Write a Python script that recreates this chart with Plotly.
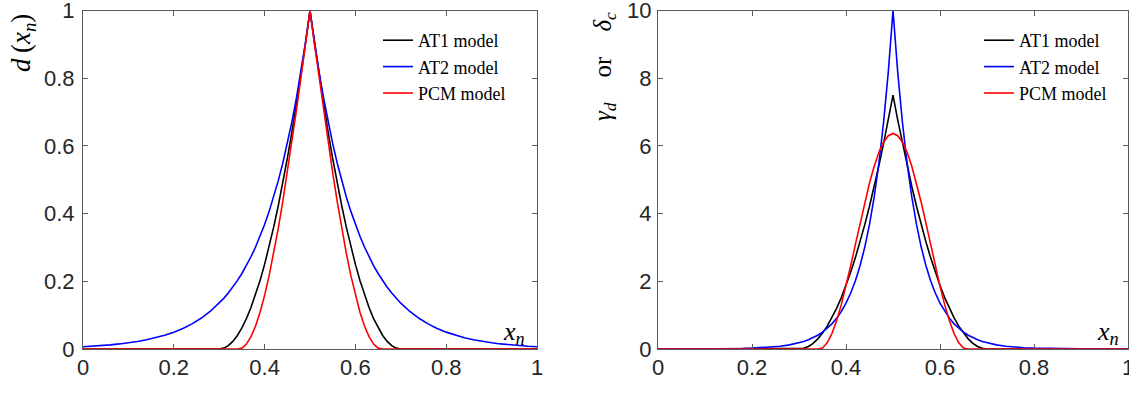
import plotly.graph_objects as go

W, H = 1129, 393

# ---------------- data ----------------
x_n = [0, 0.02, 0.04, 0.06, 0.08, 0.1, 0.12, 0.14, 0.16, 0.18, 0.2, 0.22, 0.24, 0.26, 0.28,
       0.3, 0.31, 0.32, 0.33, 0.34, 0.35, 0.36, 0.37, 0.38, 0.39,
       0.4, 0.41, 0.42, 0.43, 0.44, 0.45, 0.46, 0.47, 0.48, 0.49,
       0.5, 0.51, 0.52, 0.53, 0.54, 0.55, 0.56, 0.57, 0.58, 0.59,
       0.6, 0.61, 0.62, 0.63, 0.64, 0.65, 0.66, 0.67, 0.68, 0.69,
       0.7, 0.72, 0.74, 0.76, 0.78, 0.8, 0.82, 0.84, 0.86, 0.88, 0.9, 0.92, 0.94, 0.96, 0.98, 1.0]

d_at1 = [0, 0, 0, 0, 0, 0, 0, 0, 0, 0, 0, 0, 0, 0, 0,
         0, 0.0025, 0.01, 0.0225, 0.04, 0.0625, 0.09, 0.1225, 0.16, 0.2025,
         0.25, 0.3025, 0.36, 0.4225, 0.49, 0.5625, 0.64, 0.7225, 0.81, 0.9025,
         1.0, 0.9025, 0.81, 0.7225, 0.64, 0.5625, 0.49, 0.4225, 0.36, 0.3025,
         0.25, 0.2025, 0.16, 0.1225, 0.09, 0.0625, 0.04, 0.0225, 0.01, 0.0025,
         0, 0, 0, 0, 0, 0, 0, 0, 0, 0, 0, 0, 0, 0, 0, 0]

d_at2 = [0.0067, 0.0082, 0.0101, 0.0123, 0.0150, 0.0183, 0.0224, 0.0273, 0.0334, 0.0408,
         0.0498, 0.0608, 0.0743, 0.0907, 0.1108,
         0.1353, 0.1496, 0.1653, 0.1827, 0.2019, 0.2231, 0.2466, 0.2725, 0.3012, 0.3329,
         0.3679, 0.4066, 0.4493, 0.4966, 0.5488, 0.6065, 0.6703, 0.7408, 0.8187, 0.9048,
         1.0, 0.9048, 0.8187, 0.7408, 0.6703, 0.6065, 0.5488, 0.4966, 0.4493, 0.4066,
         0.3679, 0.3329, 0.3012, 0.2725, 0.2466, 0.2231, 0.2019, 0.1827, 0.1653, 0.1496,
         0.1353, 0.1108, 0.0907, 0.0743, 0.0608, 0.0498, 0.0408, 0.0334, 0.0273, 0.0224,
         0.0183, 0.0150, 0.0123, 0.0101, 0.0082, 0.0067]

d_pcm = [0, 0, 0, 0, 0, 0, 0, 0, 0, 0, 0, 0, 0, 0, 0,
         0, 0, 0, 0, 0, 0.0025, 0.0146, 0.0364, 0.0680, 0.1088,
         0.1585, 0.2167, 0.2826, 0.3558, 0.4354, 0.5206, 0.6106, 0.7045, 0.8013, 0.9002,
         1.0, 0.9002, 0.8013, 0.7045, 0.6106, 0.5206, 0.4354, 0.3558, 0.2826, 0.2167,
         0.1585, 0.1088, 0.0680, 0.0364, 0.0146, 0.0025, 0, 0, 0, 0,
         0, 0, 0, 0, 0, 0, 0, 0, 0, 0, 0, 0, 0, 0, 0, 0]

g_at1 = [0, 0, 0, 0, 0, 0, 0, 0, 0, 0, 0, 0, 0, 0, 0,
         0, 0.0188, 0.075, 0.1688, 0.3, 0.4688, 0.675, 0.9188, 1.2, 1.5188,
         1.875, 2.2688, 2.7, 3.1688, 3.675, 4.2188, 4.8, 5.4188, 6.075, 6.7688,
         7.5, 6.7688, 6.075, 5.4188, 4.8, 4.2188, 3.675, 3.1688, 2.7, 2.2688,
         1.875, 1.5188, 1.2, 0.9188, 0.675, 0.4688, 0.3, 0.1688, 0.075, 0.0188,
         0, 0, 0, 0, 0, 0, 0, 0, 0, 0, 0, 0, 0, 0, 0, 0]

g_at2 = [0.0005, 0.0007, 0.0010, 0.0015, 0.0022, 0.0034, 0.0050, 0.0075, 0.0111, 0.0166,
         0.0248, 0.0370, 0.0552, 0.0823, 0.1228,
         0.1832, 0.2237, 0.2732, 0.3337, 0.4076, 0.4979, 0.6081, 0.7427, 0.9072, 1.1080,
         1.3534, 1.6530, 2.0190, 2.4660, 3.0119, 3.6788, 4.4933, 5.4881, 6.7032, 8.1873,
         10.0, 8.1873, 6.7032, 5.4881, 4.4933, 3.6788, 3.0119, 2.4660, 2.0190, 1.6530,
         1.3534, 1.1080, 0.9072, 0.7427, 0.6081, 0.4979, 0.4076, 0.3337, 0.2732, 0.2237,
         0.1832, 0.1228, 0.0823, 0.0552, 0.0370, 0.0248, 0.0166, 0.0111, 0.0075, 0.0050,
         0.0034, 0.0022, 0.0015, 0.0010, 0.0007, 0.0005]

g_pcm = [0, 0, 0, 0, 0, 0, 0, 0, 0, 0, 0, 0, 0, 0, 0,
         0, 0, 0, 0, 0, 0.0319, 0.1839, 0.4555, 0.8359, 1.3098,
         1.8585, 2.4599, 3.0902, 3.7241, 4.3365, 4.9029, 5.4008, 5.8102, 6.1149, 6.3028,
         6.3662, 6.3028, 6.1149, 5.8102, 5.4008, 4.9029, 4.3365, 3.7241, 3.0902, 2.4599,
         1.8585, 1.3098, 0.8359, 0.4555, 0.1839, 0.0319, 0, 0, 0, 0,
         0, 0, 0, 0, 0, 0, 0, 0, 0, 0, 0, 0, 0, 0, 0, 0]

series_names = ["AT1 model", "AT2 model", "PCM model"]
x_ticks = [0, 0.2, 0.4, 0.6, 0.8, 1]
x_tick_text = ["0", "0.2", "0.4", "0.6", "0.8", "1"]
y1_ticks = [0, 0.2, 0.4, 0.6, 0.8, 1]
y1_tick_text = ["0", "0.2", "0.4", "0.6", "0.8", "1"]
y2_ticks = [0, 2, 4, 6, 8, 10]
y2_tick_text = ["0", "2", "4", "6", "8", "10"]

# ---------------- styling ----------------
colors = ["#000000", "#0000ff", "#ff0000"]
LW = 1.6
AXC = "#5a5a5a"
TICKFONT = dict(family="Liberation Sans, Arial, sans-serif", size=22, color="#262626")
SERIF = "Liberation Serif, Times New Roman, serif"

fig = go.Figure()

left = [d_at1, d_at2, d_pcm]
right = [g_at1, g_at2, g_pcm]
for i, (name, ys) in enumerate(zip(series_names, left)):
    fig.add_trace(go.Scatter(x=x_n, y=ys, mode="lines", name=name,
                             line=dict(color=colors[i], width=LW),
                             xaxis="x", yaxis="y", legend="legend",
                             legendgroup="L%d" % i))
for i, (name, ys) in enumerate(zip(series_names, right)):
    fig.add_trace(go.Scatter(x=x_n, y=ys, mode="lines", name=name,
                             line=dict(color=colors[i], width=LW),
                             xaxis="x2", yaxis="y2", legend="legend2",
                             legendgroup="R%d" % i))

def px_x(p):
    return p / W

def px_y(p):
    return 1 - p / H

ydom = [px_y(349), px_y(10.5)]

axis_common = dict(showline=True, linecolor=AXC, linewidth=1, mirror="allticks",
                   ticks="inside", ticklen=5, tickcolor=AXC, tickwidth=1,
                   showgrid=False, zeroline=False, tickfont=TICKFONT,
                   automargin=False, ticklabeloverflow="allow")

fig.update_layout(
    width=W, height=H,
    margin=dict(l=0, r=0, t=0, b=0),
    paper_bgcolor="white", plot_bgcolor="white",
    xaxis=dict(domain=[px_x(83), px_x(537)], range=[0, 1], anchor="y",
               tickvals=x_ticks, ticktext=x_tick_text, ticklabelstandoff=-1, **axis_common),
    yaxis=dict(domain=ydom, range=[0, 1], anchor="x",
               tickvals=y1_ticks, ticktext=y1_tick_text, ticklabelstandoff=3, **axis_common),
    xaxis2=dict(domain=[px_x(658), px_x(1128)], range=[0, 1], anchor="y2",
                tickvals=x_ticks, ticktext=x_tick_text, ticklabelstandoff=-1, **axis_common),
    yaxis2=dict(domain=ydom, range=[0, 10], anchor="x2",
                tickvals=y2_ticks, ticktext=y2_tick_text, ticklabelstandoff=1, **axis_common),
    legend=dict(x=px_x(378), y=px_y(22), xanchor="left", yanchor="top",
                bgcolor="rgba(0,0,0,0)", borderwidth=0,
                font=dict(family=SERIF, size=18, color="#000000"),
                tracegroupgap=0, itemwidth=30),
    legend2=dict(x=px_x(979), y=px_y(22), xanchor="left", yanchor="top",
                 bgcolor="rgba(0,0,0,0)", borderwidth=0,
                 font=dict(family=SERIF, size=18, color="#000000"),
                 tracegroupgap=0, itemwidth=30),
    showlegend=True,
)

annotations = [
    dict(text="<i>d</i>\u2009(<i>x<sub>n</sub></i>)", x=px_x(23), y=px_y(43),
         xref="paper", yref="paper", xanchor="center", yanchor="middle",
         showarrow=False, textangle=-90,
         font=dict(family=SERIF, size=27, color="#000000")),
    dict(text="<i>γ<sub>d</sub></i>&nbsp;&nbsp;&nbsp;&nbsp;or&nbsp;&nbsp;&nbsp;&nbsp;<i>δ<sub>c</sub></i>",
         x=px_x(604), y=px_y(67),
         xref="paper", yref="paper", xanchor="center", yanchor="middle",
         showarrow=False, textangle=-90,
         font=dict(family=SERIF, size=25, color="#000000")),
    dict(text="<i>x<sub>n</sub></i>", x=px_x(514), y=px_y(333),
         xref="paper", yref="paper", xanchor="center", yanchor="middle",
         showarrow=False,
         font=dict(family=SERIF, size=26, color="#000000")),
    dict(text="<i>x<sub>n</sub></i>", x=px_x(1108), y=px_y(333),
         xref="paper", yref="paper", xanchor="center", yanchor="middle",
         showarrow=False,
         font=dict(family=SERIF, size=26, color="#000000")),
]
fig.update_layout(annotations=annotations)

fig.write_html("out.html")
